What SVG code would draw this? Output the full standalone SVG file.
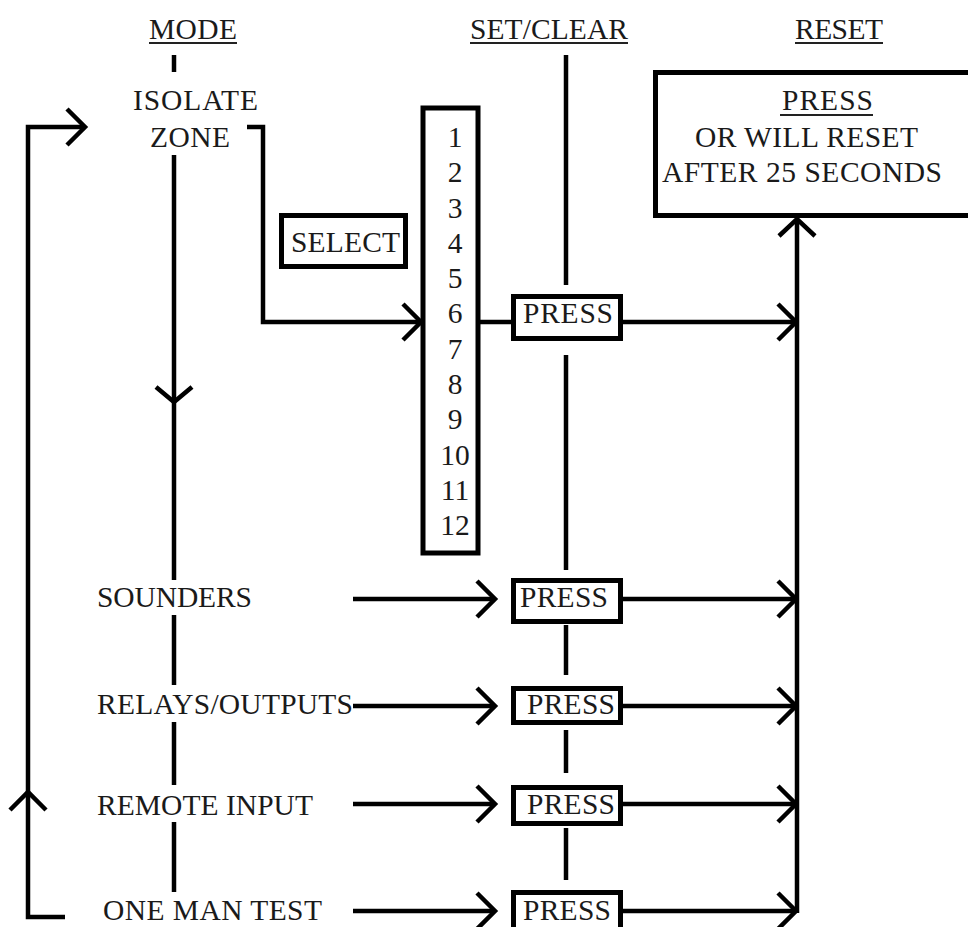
<svg xmlns="http://www.w3.org/2000/svg" width="968" height="927" viewBox="0 0 968 927">
<style>
  text { font-family: "Liberation Serif", "Times New Roman", serif; font-size: 29.5px; fill: #1a1a1a; }
  .c { text-anchor: middle; }
  .ln { stroke: #000; stroke-width: 4.5; fill: none; stroke-linecap: butt; }
  .ah { stroke: #000; stroke-width: 4.5; fill: none; stroke-linejoin: miter; }
  .box { stroke: #000; stroke-width: 5; fill: #fff; }
  .ul { stroke: #222; stroke-width: 2; }
</style>
<rect x="0" y="0" width="968" height="927" fill="#fff"/>

<g id="connectors">
  <!-- MODE column -->
  <line class="ln" x1="174" y1="55" x2="174" y2="72"/>
  <line class="ln" x1="174" y1="155" x2="174" y2="580"/>
  <polyline class="ah" points="156,387 174,402 192,387"/>
  <line class="ln" x1="174" y1="615" x2="174" y2="685"/>
  <line class="ln" x1="174" y1="722" x2="174" y2="785"/>
  <line class="ln" x1="174" y1="822" x2="174" y2="892"/>
  <!-- return loop -->
  <path class="ln" d="M85,127 H28 V917 H65"/>
  <polyline class="ah" points="67,109 85,127 67,145"/>
  <polyline class="ah" points="10,810 28,792 46,810"/>
  <!-- isolate zone to zone list -->
  <path class="ln" d="M247,127 H263 V322 H420"/>
  <polyline class="ah" points="403,304 421,322 403,340"/>
  <line class="ln" x1="478" y1="322" x2="513" y2="322"/>
  <!-- SET/CLEAR column -->
  <line class="ln" x1="566" y1="55" x2="566" y2="285"/>
  <line class="ln" x1="566" y1="355" x2="566" y2="570"/>
  <line class="ln" x1="566" y1="625" x2="566" y2="675"/>
  <line class="ln" x1="566" y1="730" x2="566" y2="773"/>
  <line class="ln" x1="566" y1="828" x2="566" y2="880"/>
  <!-- modes to PRESS -->
  <line class="ln" x1="353" y1="599" x2="494" y2="599"/>
  <polyline class="ah" points="477,581 495,599 477,617"/>
  <line class="ln" x1="353" y1="706" x2="494" y2="706"/>
  <polyline class="ah" points="477,688 495,706 477,724"/>
  <line class="ln" x1="353" y1="804" x2="494" y2="804"/>
  <polyline class="ah" points="477,786 495,804 477,822"/>
  <line class="ln" x1="353" y1="911" x2="494" y2="911"/>
  <polyline class="ah" points="477,893 495,911 477,929"/>
  <!-- PRESS to RESET -->
  <line class="ln" x1="621" y1="322" x2="796" y2="322"/>
  <polyline class="ah" points="778,304 796,322 778,340"/>
  <line class="ln" x1="621" y1="599" x2="796" y2="599"/>
  <polyline class="ah" points="778,581 796,599 778,617"/>
  <line class="ln" x1="621" y1="706" x2="796" y2="706"/>
  <polyline class="ah" points="778,688 796,706 778,724"/>
  <line class="ln" x1="621" y1="804" x2="796" y2="804"/>
  <polyline class="ah" points="778,786 796,804 778,822"/>
  <line class="ln" x1="621" y1="911" x2="796" y2="911"/>
  <polyline class="ah" points="778,893 796,911 778,929"/>
  <!-- RESET column -->
  <line class="ln" x1="797" y1="219" x2="797" y2="913"/>
  <polyline class="ah" points="779,236 797,219 815,236"/>
</g>

<g id="hdr-mode">
  <text x="149" y="39" textLength="88">MODE</text>
  <line class="ul" x1="149" y1="43" x2="237" y2="43"/>
</g>
<g id="hdr-setclear">
  <text x="470" y="39" textLength="158">SET/CLEAR</text>
  <line class="ul" x1="470" y1="43" x2="628" y2="43"/>
</g>
<g id="hdr-reset">
  <text x="795" y="39" textLength="88">RESET</text>
  <line class="ul" x1="795" y1="43" x2="883" y2="43"/>
</g>

<g id="isolate-zone">
  <text x="133" y="110" textLength="125">ISOLATE</text>
  <text x="150" y="147" textLength="80">ZONE</text>
</g>

<g id="select">
  <rect class="box" x="281.5" y="215.5" width="124" height="51"/>
  <text x="291" y="252" textLength="109">SELECT</text>
</g>

<g id="zones">
  <rect class="box" x="423" y="108" width="55" height="445" stroke-width="4.5"/>
  <text class="c" x="455" y="147">1</text>
  <text class="c" x="455" y="182">2</text>
  <text class="c" x="455" y="218">3</text>
  <text class="c" x="455" y="253">4</text>
  <text class="c" x="455" y="288">5</text>
  <text class="c" x="455" y="323">6</text>
  <text class="c" x="455" y="359">7</text>
  <text class="c" x="455" y="394">8</text>
  <text class="c" x="455" y="429">9</text>
  <text class="c" x="455" y="465">10</text>
  <text class="c" x="455" y="500">11</text>
  <text class="c" x="455" y="535">12</text>
</g>

<g id="reset-box">
  <rect class="box" x="655.5" y="72.5" width="330" height="143"/>
  <text x="782" y="110" textLength="91">PRESS</text>
  <line class="ul" x1="780" y1="115" x2="873" y2="115"/>
  <text x="695" y="147" textLength="223">OR WILL RESET</text>
  <text x="662" y="182" textLength="280">AFTER 25 SECONDS</text>
</g>

<g id="press-zone">
  <rect class="box" x="513.5" y="296.5" width="107" height="42"/>
  <text x="523" y="323" textLength="90">PRESS</text>
</g>
<g id="press-sounders">
  <rect class="box" x="513.5" y="580.5" width="107" height="41"/>
  <text x="520" y="607" textLength="88">PRESS</text>
</g>
<g id="press-relays">
  <rect class="box" x="513.5" y="688.5" width="107" height="34"/>
  <text x="527" y="714" textLength="88">PRESS</text>
</g>
<g id="press-remote">
  <rect class="box" x="513.5" y="787.5" width="107" height="36"/>
  <text x="527" y="814" textLength="88">PRESS</text>
</g>
<g id="press-oneman">
  <rect class="box" x="513.5" y="892.5" width="107" height="40"/>
  <text x="523" y="920" textLength="88">PRESS</text>
</g>

<g id="mode-sounders"><text x="97" y="607" textLength="155">SOUNDERS</text></g>
<g id="mode-relays"><text x="97" y="714" textLength="256">RELAYS/OUTPUTS</text></g>
<g id="mode-remote"><text x="97" y="815" textLength="216">REMOTE INPUT</text></g>
<g id="mode-oneman"><text x="103" y="920" textLength="219">ONE MAN TEST</text></g>
</svg>
